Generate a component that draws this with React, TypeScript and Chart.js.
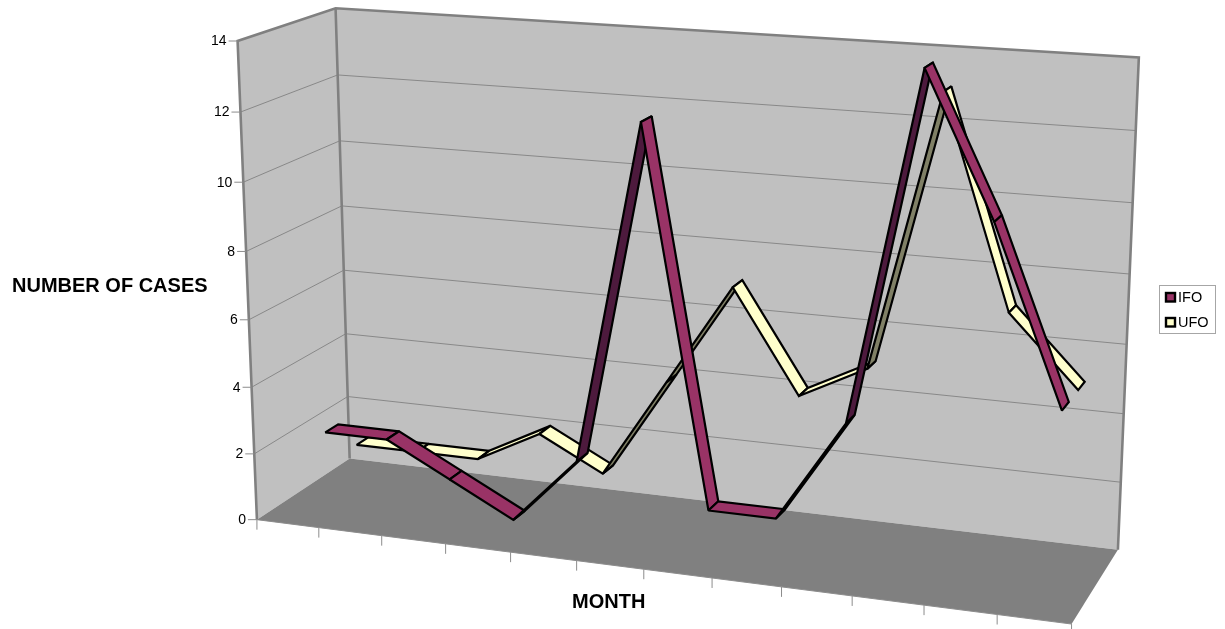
import React, { useEffect, useRef } from "react";
import { Chart, registerables } from "chart.js";

Chart.register(...registerables);

const months = ["Jan", "Feb", "Mar", "Apr", "May", "Jun", "Jul", "Aug", "Sep", "Oct", "Nov", "Dec"];
const ifoValues = [2, 2, 1, 0, 2, 12, 1, 1, 4, 14, 10, 5];
const ufoValues = [1, 1, 1, 2, 1, 4, 7, 4, 5, 13, 7, 5];
const yTitle = "NUMBER OF CASES";
const xTitle = "MONTH";

const WIDTH = 1225;
const HEIGHT = 629;

// depth slots of the ribbons, 0 = front of the floor, 1 = back wall
const depthSlots = [
  [0.42, 0.56],
  [0.755, 0.895],
];

// camera calibration: [u, v, d, screenX, screenY]
const calib: number[][] = [
  [0, 1, 0, 238, 41],
  [0, 0, 0, 257.5, 520],
  [0, 1, 1, 335, 8],
  [0, 0, 1, 350, 459],
  [1, 1, 1, 1139, 58],
  [1, 0, 1, 1118, 549],
  [1, 0, 0, 1072, 624],
  [3 / 12, 0, 0, 445, 544],
  [6 / 12, 0, 0, 643, 569.5],
  [9 / 12, 0, 0, 852, 596],
  [0, 6 / 14, 0, 249, 319],
];

function solveCamera(points: number[][]) {
  const n = 11;
  const A: number[][] = Array.from({ length: n }, () => new Array(n + 1).fill(0));
  const add = (row: number[], rhs: number) => {
    for (let i = 0; i < n; i++) {
      for (let j = 0; j < n; j++) A[i][j] += row[i] * row[j];
      A[i][n] += row[i] * rhs;
    }
  };
  points.forEach(([u, v, d, sx, sy]) => {
    const x = sx / 1000;
    const y = sy / 1000;
    add([u, v, d, 1, 0, 0, 0, 0, -x * u, -x * v, -x * d], x);
    add([0, 0, 0, 0, u, v, d, 1, -y * u, -y * v, -y * d], y);
  });
  for (let c = 0; c < n; c++) {
    let p = c;
    for (let r = c + 1; r < n; r++) if (Math.abs(A[r][c]) > Math.abs(A[p][c])) p = r;
    [A[c], A[p]] = [A[p], A[c]];
    for (let r = 0; r < n; r++) {
      if (r === c) continue;
      const f = A[r][c] / A[c][c];
      for (let k = c; k <= n; k++) A[r][k] -= f * A[c][k];
    }
  }
  return A.map((row, i) => row[n] / row[i]);
}

const cam = solveCamera(calib);
function project(u: number, v: number, d: number): [number, number] {
  const w = cam[8] * u + cam[9] * v + cam[10] * d + 1;
  return [
    (1000 * (cam[0] * u + cam[1] * v + cam[2] * d + cam[3])) / w,
    (1000 * (cam[4] * u + cam[5] * v + cam[6] * d + cam[7])) / w,
  ];
}

function poly(ctx: CanvasRenderingContext2D, pts: [number, number][], close = true) {
  ctx.beginPath();
  pts.forEach((p, i) => (i ? ctx.lineTo(p[0], p[1]) : ctx.moveTo(p[0], p[1])));
  if (close) ctx.closePath();
}

const scene3d = {
  id: "scene3d",
  afterDatasetsDraw(chart: any) {
    const { ctx, chartArea: area, scales } = chart;
    const toU = (px: number) => (px - area.left) / (area.right - area.left);
    const toV = (py: number) => (area.bottom - py) / (area.bottom - area.top);
    const xs = scales.x;
    const ys = scales.y;
    ctx.save();
    ctx.lineJoin = "miter";

    // walls and floor
    ctx.fillStyle = "#c0c0c0";
    poly(ctx, [project(0, 0, 0), project(0, 1, 0), project(0, 1, 1), project(0, 0, 1)]);
    ctx.fill();
    poly(ctx, [project(0, 0, 1), project(0, 1, 1), project(1, 1, 1), project(1, 0, 1)]);
    ctx.fill();
    ctx.fillStyle = "#808080";
    poly(ctx, [project(0, 0, 0), project(0, 0, 1), project(1, 0, 1), project(1, 0, 0)]);
    ctx.fill();

    // gridlines
    ctx.strokeStyle = "#707070";
    ctx.lineWidth = 0.7;
    ys.ticks.forEach((t: any) => {
      const v = toV(ys.getPixelForValue(t.value));
      if (v <= 0 || v >= 1) return;
      poly(ctx, [project(0, v, 0), project(0, v, 1), project(1, v, 1)], false);
      ctx.stroke();
    });

    // heavy frame
    ctx.strokeStyle = "#808080";
    ctx.lineWidth = 2.6;
    poly(ctx, [project(0, 0, 0), project(0, 1, 0), project(0, 1, 1), project(1, 1, 1), project(1, 0, 1)], false);
    ctx.stroke();
    poly(ctx, [project(0, 1, 1), project(0, 0, 1)], false);
    ctx.stroke();

    // axis ticks
    ctx.lineWidth = 1;
    ctx.strokeStyle = "#8c8c8c";
    poly(ctx, [project(0, 0, 0), project(1, 0, 0)], false);
    ctx.stroke();
    months.concat("").forEach((_, i) => {
      const p = project(toU(xs.getPixelForValue(i - 0.5)), 0, 0);
      poly(ctx, [p, [p[0], p[1] + 10]], false);
      ctx.stroke();
    });
    ctx.fillStyle = "#000";
    ctx.font = '14px "Liberation Sans"';
    ctx.textAlign = "right";
    ctx.textBaseline = "middle";
    ys.ticks.forEach((t: any) => {
      const p = project(0, toV(ys.getPixelForValue(t.value)), 0);
      poly(ctx, [p, [p[0] - 9, p[1]]], false);
      ctx.stroke();
      ctx.fillText(String(t.value), p[0] - 11, p[1] + 0.5);
    });

    // ribbons, back series first
    ctx.miterLimit = 1.6;
    [1, 0].forEach((di) => {
      const ds = chart.data.datasets[di];
      const pts = chart.getDatasetMeta(di).data;
      const [d0, d1] = depthSlots[di];
      for (let i = 0; i + 1 < pts.length; i++) {
        const a = pts[i];
        const b = pts[i + 1];
        const q: [number, number][] = [
          project(toU(a.x), toV(a.y), d0),
          project(toU(a.x), toV(a.y), d1),
          project(toU(b.x), toV(b.y), d1),
          project(toU(b.x), toV(b.y), d0),
        ];
        let area2 = 0;
        q.forEach((p, k) => {
          const n = q[(k + 1) % 4];
          area2 += p[0] * n[1] - n[0] * p[1];
        });
        poly(ctx, q);
        ctx.fillStyle = area2 > 0 ? ds.backgroundColor : ds.borderColor;
        ctx.fill();
        ctx.strokeStyle = "#000";
        ctx.lineWidth = 2.2;
        ctx.stroke();
      }
    });
    ctx.miterLimit = 10;

    // titles
    ctx.fillStyle = "#000";
    ctx.font = 'bold 20px "Liberation Sans"';
    ctx.textAlign = "left";
    ctx.textBaseline = "alphabetic";
    ctx.fillText(yTitle, 12, 292);
    ctx.fillText(xTitle, 572, 608);

    // legend
    ctx.strokeStyle = "#a6a6a6";
    ctx.lineWidth = 1;
    ctx.strokeRect(1159.5, 285.5, 56, 48);
    ctx.font = '14.5px "Liberation Sans"';
    chart.data.datasets.forEach((ds: any, i: number) => {
      const y = 293 + i * 25;
      ctx.fillStyle = ds.backgroundColor;
      ctx.fillRect(1166, y, 9, 8.5);
      ctx.strokeStyle = "#000";
      ctx.lineWidth = 2.4;
      ctx.strokeRect(1166, y, 9, 8.5);
      ctx.fillStyle = "#000";
      ctx.textBaseline = "middle";
      ctx.fillText(ds.label, 1178, y + 5);
    });
    ctx.restore();
  },
};

export default function App() {
  const ref = useRef<HTMLCanvasElement>(null);
  useEffect(() => {
    const chart = new Chart(ref.current as HTMLCanvasElement, {
      type: "line",
      data: {
        labels: months,
        datasets: [
          { label: "IFO", data: ifoValues, backgroundColor: "#993366", borderColor: "#4d1a3d", showLine: false, pointRadius: 0 },
          { label: "UFO", data: ufoValues, backgroundColor: "#ffffcc", borderColor: "#808066", showLine: false, pointRadius: 0 },
        ],
      },
      options: {
        animation: false,
        responsive: false,
        layout: { padding: 0 },
        plugins: { legend: { display: false }, title: { display: false }, tooltip: { enabled: false } },
        scales: {
          x: { type: "category", offset: true, display: false },
          y: { type: "linear", min: 0, max: 14, ticks: { stepSize: 2 }, display: false },
        },
      },
      plugins: [scene3d],
    } as any);
    return () => chart.destroy();
  }, []);
  return (
    <div style={{ position: "fixed", left: 0, top: 0, width: WIDTH, height: HEIGHT, background: "#fff" }}>
      <canvas ref={ref} width={WIDTH} height={HEIGHT} style={{ display: "block" }} />
    </div>
  );
}
